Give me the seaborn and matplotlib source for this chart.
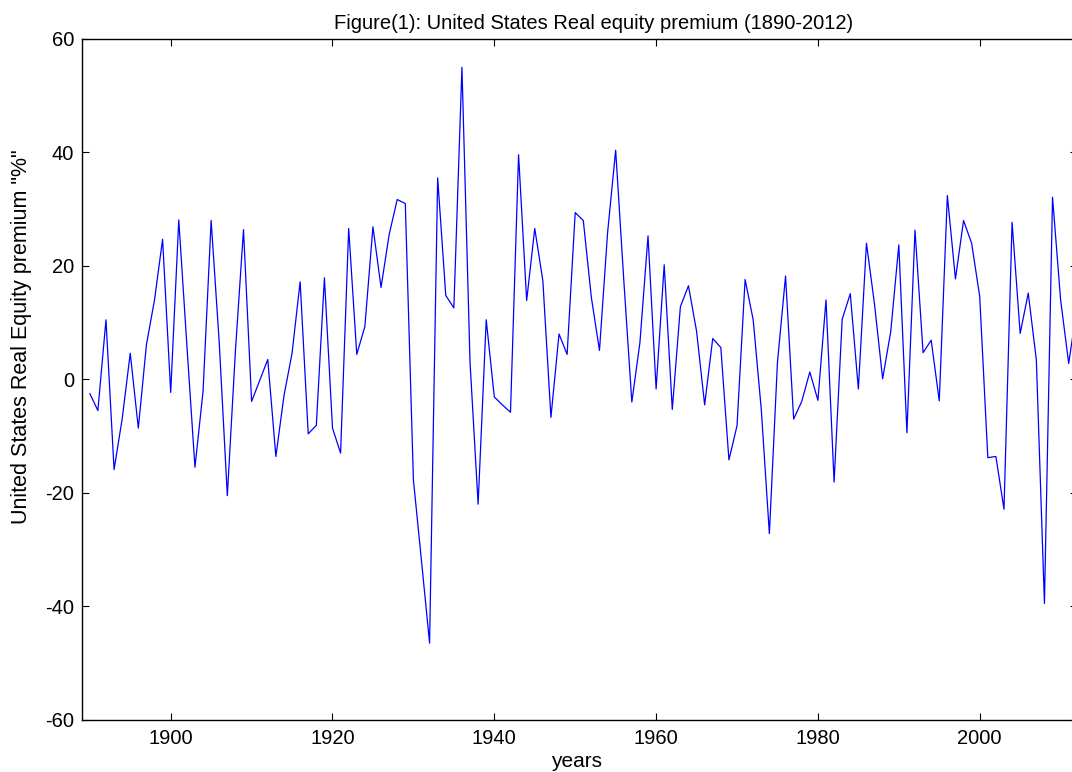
import matplotlib
matplotlib.use("Agg")
import matplotlib.pyplot as plt
import seaborn as sns
import pandas as pd

years = list(range(1890, 2013))
premium = [
    -2.5, -5.5, 10.5, -15.9, -7.0, 4.6, -8.6, 6.1, 14.0, 24.7,      # 1890-1899
    -2.3, 28.1, 6.0, -15.5, -2.1, 28.0, 6.5, -20.5, 5.0, 26.4,      # 1900-1909
    -3.9, -0.2, 3.5, -13.6, -2.9, 4.6, 17.2, -9.6, -8.1, 17.9,      # 1910-1919
    -8.6, -13.0, 26.6, 4.4, 9.3, 26.9, 16.2, 25.5, 31.7, 31.0,      # 1920-1929
    -17.7, -32.0, -46.5, 35.5, 14.8, 12.6, 55.0, 3.0, -22.0, 10.5,  # 1930-1939
    -3.1, -4.5, -5.8, 39.6, 13.9, 26.6, 17.4, -6.7, 8.0, 4.4,       # 1940-1949
    29.4, 28.0, 14.4, 5.1, 25.8, 40.4, 17.6, -4.0, 6.5, 25.3,       # 1950-1959
    -1.7, 20.2, -5.3, 12.8, 16.5, 8.5, -4.5, 7.2, 5.6, -14.2,       # 1960-1969
    -8.2, 17.6, 10.5, -5.3, -27.2, 3.0, 18.2, -7.0, -3.9, 1.3,      # 1970-1979
    -3.7, 14.0, -18.1, 10.6, 15.1, -1.7, 24.0, 13.2, 0.1, 8.4,      # 1980-1989
    23.7, -9.4, 26.3, 4.7, 6.9, -3.8, 32.4, 17.7, 28.0, 24.0,       # 1990-1999
    14.6, -13.8, -13.6, -22.9, 27.7, 8.1, 15.2, 3.4, -39.5, 32.1,   # 2000-2009
    14.0, 2.8, 12.5,                                                # 2010-2012
]
x_ticks = [1900, 1920, 1940, 1960, 1980, 2000]
y_ticks = [-60, -40, -20, 0, 20, 40, 60]

title = "Figure(1): United States Real equity premium (1890-2012)"
xlabel = "years"
ylabel = 'United States Real Equity premium "%"'

sns.set_style("ticks")
plt.rcParams["font.family"] = ["Liberation Sans", "DejaVu Sans"]
plt.rcParams["axes.unicode_minus"] = False
plt.rcParams["text.color"] = "black"
plt.rcParams["axes.labelcolor"] = "black"

df = pd.DataFrame({"year": years, "premium": premium})

W, H = 1072, 772
fig = plt.figure(figsize=(W / 100, H / 100), dpi=100)
left_px, right_px, top_px, bottom_px = 81.7, 1076.8, 39.0, 719.7
ax = fig.add_axes([left_px / W, 1 - bottom_px / H,
                   (right_px - left_px) / W, (bottom_px - top_px) / H])

sns.lineplot(data=df, x="year", y="premium", ax=ax, color="#0000ff",
             linewidth=0.9, estimator=None, sort=False)

ax.set_xlim(1889, 2012)
ax.set_ylim(-60, 60)
ax.set_xticks(x_ticks)
ax.set_yticks(y_ticks)
ax.tick_params(direction="in", length=5, width=0.8, top=True, right=True,
               labelsize=14.5, colors="black")
ax.tick_params(axis="x", pad=7)
ax.tick_params(axis="y", pad=5.5)
for s in ax.spines.values():
    s.set_linewidth(1.0)
    s.set_color("black")

ax.set_title(title, fontsize=14.5, x=0.514, pad=7.5, color="black")
ax.set_xlabel(xlabel, fontsize=15, color="black")
ax.set_ylabel(ylabel, fontsize=15.5, color="black")
ax.xaxis.set_label_coords(0.497, -0.047)
ax.yaxis.set_label_coords(-0.050, 0.562)

fig.savefig("out.png", dpi=100)
